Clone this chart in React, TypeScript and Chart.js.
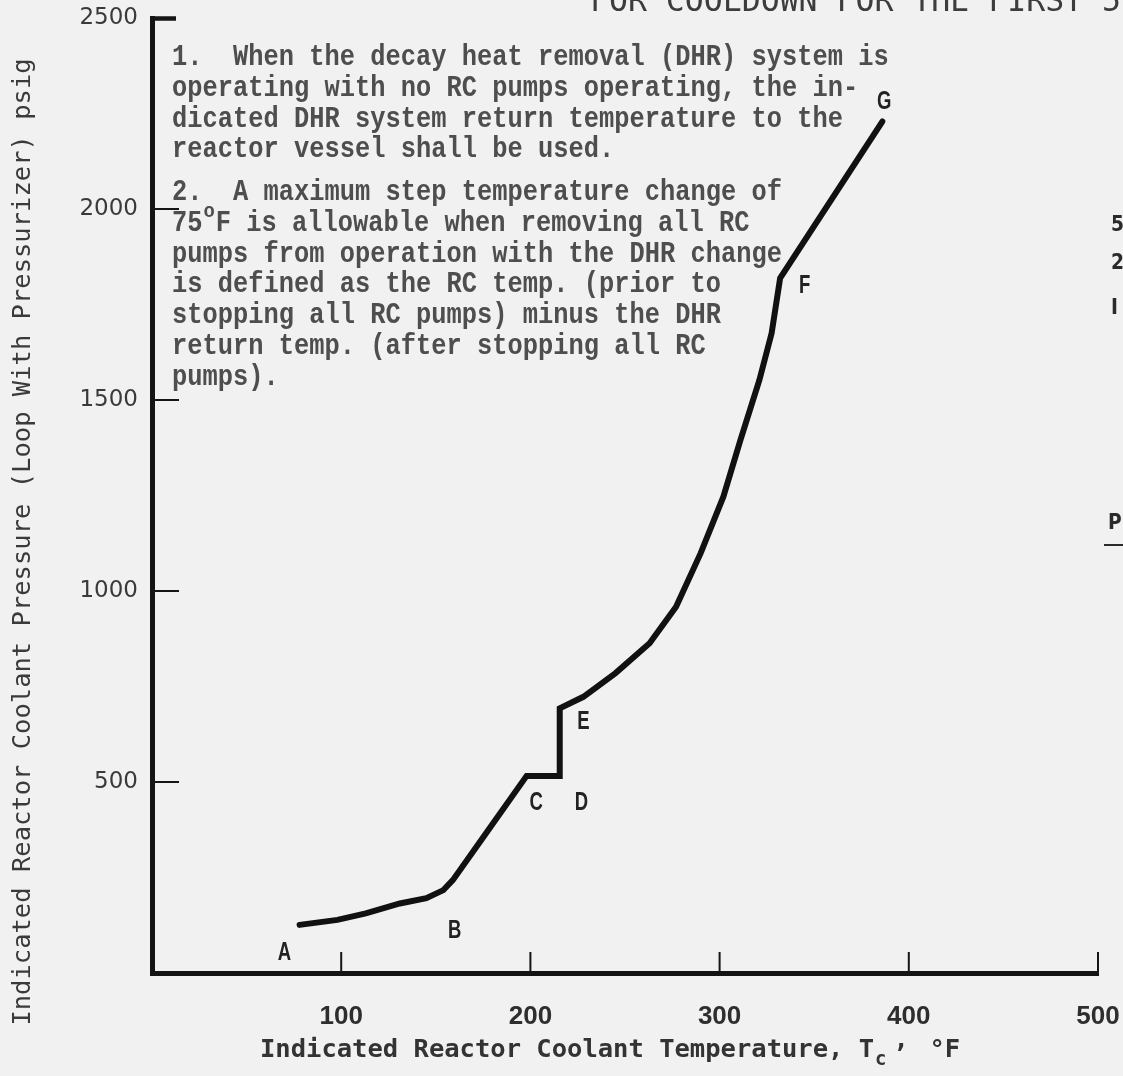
import React, { useEffect, useRef } from 'react';
import { Chart, registerables } from 'chart.js';

Chart.register(...registerables);

// ---- data ----
const temperatures = [78, 98, 113, 131, 145, 154, 159, 176, 198, 215.5, 215.5, 228, 245, 263, 277, 290, 302, 311, 321, 327.5, 332, 386];
const pressures = [126, 139, 156, 182, 196, 217, 243, 362, 516, 516, 693, 723, 785, 863, 959, 1099, 1247, 1395, 1552, 1675, 1819, 2229];

const xTickValues = [0, 100, 200, 300, 400, 500];
const yTickValues = [0, 500, 1000, 1500, 2000, 2500];

const pointLetters = ['A', 'B', 'C', 'D', 'E', 'F', 'G'];
const letterTemps = [70, 160, 203, 227, 228, 345, 387];
const letterPress = [52, 110, 445, 445, 657, 1799, 2280];

const noteParagraphs = [
  [
    '1.  When the decay heat removal (DHR) system is',
    'operating with no RC pumps operating, the in-',
    'dicated DHR system return temperature to the',
    'reactor vessel shall be used.',
  ],
  [
    '2.  A maximum step temperature change of',
    '75°F is allowable when removing all RC',
    'pumps from operation with the DHR change',
    'is defined as the RC temp. (prior to',
    'stopping all RC pumps) minus the DHR',
    'return temp. (after stopping all RC',
    'pumps).',
  ],
];

const yTitle = 'Indicated Reactor Coolant Pressure (Loop With Pressurizer) psig';
const xTitleMain = 'Indicated Reactor Coolant Temperature, T';
const xTitleSub = 'c';
const xTitleUnit = '°F';
const headerText = 'FOR COOLDOWN FOR THE FIRST 5';
const edgeFragments = ['5', '2', 'I'];
const edgeHeading = 'PR';

// ---- helpers ----
function drawText(
  ctx: CanvasRenderingContext2D,
  text: string,
  x: number,
  y: number,
  font: string,
  color: string,
  sx = 1,
  align: CanvasTextAlign = 'left',
  baseline: CanvasTextBaseline = 'alphabetic'
) {
  ctx.save();
  ctx.font = font;
  ctx.fillStyle = color;
  ctx.textAlign = align;
  ctx.textBaseline = baseline;
  ctx.translate(x, y);
  ctx.scale(sx, 1);
  ctx.fillText(text, 0, 0);
  ctx.restore();
}

const paperPlugin = {
  id: 'paper',
  beforeDraw(chart: any) {
    const { ctx, width, height } = chart;
    ctx.save();
    ctx.fillStyle = '#f1f1f1';
    ctx.fillRect(0, 0, width, height);
    ctx.restore();
  },
};

const inwardTicksPlugin = {
  id: 'inwardTicks',
  afterDraw(chart: any) {
    const { ctx, chartArea } = chart;
    const x = chart.scales.x;
    const y = chart.scales.y;
    ctx.save();
    ctx.strokeStyle = '#151515';
    ctx.lineCap = 'butt';
    y.ticks.forEach((t: any) => {
      if (t.value === 0) return;
      const py = y.getPixelForValue(t.value);
      const isTop = t.value === y.max;
      ctx.lineWidth = isTop ? 4.5 : 2;
      ctx.beginPath();
      ctx.moveTo(chartArea.left, py + (isTop ? 0.5 : 0));
      ctx.lineTo(chartArea.left + (isTop ? 24 : 27), py + (isTop ? 0.5 : 0));
      ctx.stroke();
    });
    x.ticks.forEach((t: any) => {
      if (t.value === 0) return;
      const px = x.getPixelForValue(t.value);
      ctx.lineWidth = 2;
      ctx.beginPath();
      ctx.moveTo(px, chartArea.bottom);
      ctx.lineTo(px, chartArea.bottom - 21);
      ctx.stroke();
    });
    ctx.restore();
  },
};

const textPlugin = {
  id: 'texts',
  afterDraw(chart: any) {
    const { ctx } = chart;
    const x = chart.scales.x;
    const y = chart.scales.y;

    // notes (typewriter)
    const noteFont = 'bold 30px "Liberation Mono", monospace';
    ctx.save();
    ctx.font = noteFont;
    const adv = 15.25;
    const sx = adv / ctx.measureText('M').width;
    ctx.restore();
    const noteColor = '#4e4e4e';
    const noteLeft = 172;
    const lineStep = 30.8;
    const paraStarts = [65, 200];
    noteParagraphs.forEach((lines, pi) => {
      lines.forEach((line, li) => {
        const base = paraStarts[pi] + li * lineStep;
        const deg = line.indexOf('°');
        if (deg >= 0) {
          const before = line.slice(0, deg);
          const after = line.slice(deg + 1);
          drawText(ctx, before, noteLeft, base, noteFont, noteColor, sx);
          drawText(ctx, 'o', noteLeft + deg * adv + 1, base - 14, 'bold 21px "Liberation Mono", monospace', noteColor, 0.9);
          drawText(ctx, after, noteLeft + (deg + 1) * adv - 2, base, noteFont, noteColor, sx);
        } else {
          drawText(ctx, line, noteLeft, base, noteFont, noteColor, sx);
        }
      });
    });

    // y axis title (rotated)
    ctx.save();
    ctx.translate(23, 542);
    ctx.rotate(-Math.PI / 2);
    ctx.font = '25.5px "DejaVu Sans Mono", monospace';
    ctx.fillStyle = '#3a3a3a';
    ctx.textAlign = 'center';
    ctx.textBaseline = 'middle';
    ctx.fillText(yTitle, 0, 0);
    ctx.restore();

    // x axis title
    const xtFont = 'bold 25.5px "DejaVu Sans Mono", monospace';
    const xtColor = '#333';
    const xtLeft = 260;
    const xtBase = 1057;
    ctx.save();
    ctx.font = xtFont;
    const xadv = ctx.measureText('M').width;
    ctx.restore();
    drawText(ctx, xTitleMain, xtLeft, xtBase, xtFont, xtColor);
    const subIdx = xTitleMain.length;
    drawText(ctx, xTitleSub, xtLeft + subIdx * xadv + 1, xtBase + 8, 'bold 19px "DejaVu Sans Mono", monospace', xtColor);
    drawText(ctx, ',', xtLeft + (subIdx + 1) * xadv + 4, xtBase - 9, xtFont, xtColor);
    drawText(ctx, xTitleUnit, xtLeft + (subIdx + 4) * xadv - 6, xtBase, xtFont, xtColor);

    // point letters
    pointLetters.forEach((L, i) => {
      const px = x.getPixelForValue(letterTemps[i]);
      const py = y.getPixelForValue(letterPress[i]);
      drawText(ctx, L, px, py, 'bold 25px "Liberation Sans", sans-serif', '#222', 0.74, 'center', 'middle');
    });

    // header fragment (cut at top)
    drawText(ctx, headerText, 590, 11, '31.5px "DejaVu Sans Mono", monospace', '#3c3c3c');

    // right-edge fragments from next column
    const edgeYs = [225, 263, 308];
    edgeFragments.forEach((f, i) => {
      drawText(ctx, f, 1111, edgeYs[i], 'bold 22px "DejaVu Sans", sans-serif', '#2a2a2a', 0.85, 'left', 'middle');
    });
    drawText(ctx, edgeHeading, 1108, 523, 'bold 22px "DejaVu Sans", sans-serif', '#2a2a2a', 0.85, 'left', 'middle');
    ctx.save();
    ctx.strokeStyle = '#2a2a2a';
    ctx.lineWidth = 2;
    ctx.beginPath();
    ctx.moveTo(1104, 545);
    ctx.lineTo(1123, 545);
    ctx.stroke();
    ctx.restore();
  },
};

export default function App() {
  const ref = useRef<HTMLCanvasElement>(null);

  useEffect(() => {
    if (!ref.current) return;
    const chart = new Chart(ref.current, {
      type: 'line',
      data: {
        datasets: [
          {
            data: temperatures.map((t, i) => ({ x: t, y: pressures[i] })),
            borderColor: '#111111',
            borderWidth: 6,
            pointRadius: 0,
            tension: 0,
            fill: false,
            borderJoinStyle: 'miter',
            borderCapStyle: 'round',
          },
        ],
      },
      options: {
        responsive: false,
        animation: false,
        devicePixelRatio: 1,
        layout: { padding: { left: 0, top: 18, right: 25, bottom: 0 } },
        plugins: {
          legend: { display: false },
          tooltip: { enabled: false },
        },
        scales: {
          x: {
            type: 'linear',
            min: 0,
            max: 500,
            afterFit: (s: any) => {
              s.height = 103;
              s.paddingLeft = 0;
              s.paddingRight = 0;
            },
            afterBuildTicks: (s: any) => {
              s.ticks = xTickValues.map((v) => ({ value: v }));
            },
            ticks: {
              autoSkip: false,
              maxRotation: 0,
              padding: 28,
              color: '#2e2e2e',
              font: { family: '"Liberation Sans", sans-serif', size: 26, weight: 'bold' },
              callback: (v: any) => (v === 0 ? '' : String(v)),
            },
            grid: { display: false, drawTicks: false },
            border: { display: true, width: 5, color: '#141414' },
          },
          y: {
            type: 'linear',
            min: 0,
            max: 2500,
            afterFit: (s: any) => {
              s.width = 152;
              s.paddingTop = 0;
              s.paddingBottom = 0;
            },
            afterBuildTicks: (s: any) => {
              s.ticks = yTickValues.map((v) => ({ value: v }));
            },
            ticks: {
              autoSkip: false,
              padding: 14,
              color: '#3a3a3a',
              font: { family: '"DejaVu Sans", sans-serif', size: 23 },
              callback: (v: any) => (v === 0 ? '' : String(v)),
            },
            grid: { display: false, drawTicks: false },
            border: { display: true, width: 5, color: '#141414' },
          },
        },
      },
      plugins: [paperPlugin, inwardTicksPlugin, textPlugin],
    } as any);
    return () => chart.destroy();
  }, []);

  return (
    <div style={{ position: 'absolute', left: 0, top: 0, width: 1123, height: 1076, overflow: 'hidden' }}>
      <canvas ref={ref} width={1123} height={1076} style={{ display: 'block' }} />
    </div>
  );
}
